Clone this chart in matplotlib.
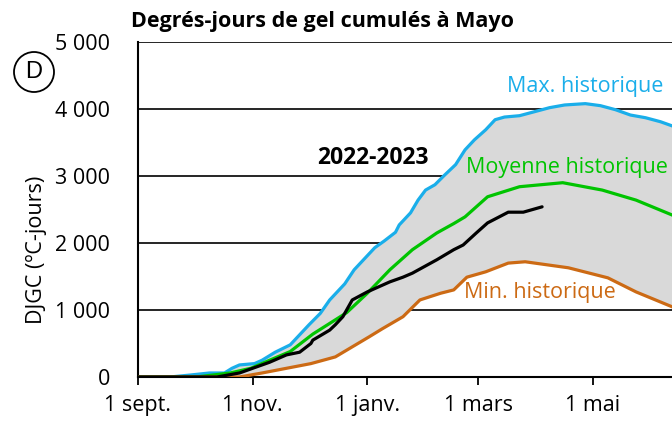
import numpy as np
import matplotlib
matplotlib.use("Agg")
import matplotlib.pyplot as plt
from matplotlib.patches import Ellipse

plt.rcParams['font.family'] = ['Open Sans', 'DejaVu Sans']

# days counted from 1 september
max_days = [0, 17, 28, 38, 46, 50, 54, 62, 66, 73, 81, 86, 91, 97, 102, 107, 110, 115, 121, 126,
            131, 137, 139, 145, 149, 153, 158, 163, 169, 174, 179, 185, 190, 195, 203, 211, 219,
            227, 238, 246, 254, 262, 270, 278, 284, 290]
max_vals = [0, 0, 30, 60, 60, 130, 180, 200, 250, 370, 480, 630, 780, 950, 1150, 1300, 1390, 1600,
            1780, 1930, 2030, 2160, 2270, 2450, 2640, 2790, 2870, 3010, 3170, 3390, 3540, 3690,
            3840, 3880, 3900, 3960, 4020, 4060, 4080, 4050, 3990, 3910, 3870, 3810, 3750, 3700]

mean_days = [0, 31, 49, 60, 70, 81, 93, 111, 122, 134, 146, 159, 168, 174, 186, 203, 226,
             247, 265, 284, 290]
mean_vals = [0, 0, 60, 130, 250, 380, 640, 960, 1250, 1600, 1900, 2150, 2290, 2390, 2690,
             2840, 2900, 2790, 2640, 2420, 2350]

min_days = [0, 54, 66, 79, 92, 105, 111, 123, 130, 141, 150, 161, 168, 175, 185, 197, 206, 229,
            250, 265, 284, 290]
min_vals = [0, 0, 60, 130, 200, 300, 400, 600, 720, 900, 1150, 1250, 1300, 1490, 1570, 1700,
            1720, 1630, 1480, 1270, 1050, 980]

cur_days = [0, 42, 54, 63, 70, 79, 86, 92, 93, 102, 105, 109, 114, 122, 134, 141, 146, 159, 168,
            173, 180, 186, 197, 205, 215]
cur_vals = [0, 0, 60, 150, 220, 330, 370, 500, 550, 700, 780, 900, 1150, 1270, 1420, 1490, 1550,
            1750, 1900, 1970, 2150, 2300, 2460, 2460, 2540]

tick_days = [0, 61, 122, 181, 242]
tick_labels = ['1 sept.', '1 nov.', '1 janv.', '1 mars', '1 mai']
y_ticks = [0, 1000, 2000, 3000, 4000, 5000]
y_labels = ['0', '1 000', '2 000', '3 000', '4 000', '5 000']

c_max = '#1aaeea'
c_mean = '#00c400'
c_min = '#cc6a14'
fs = 15.5

fig = plt.figure(figsize=(6.72, 4.21), dpi=100)
ax = fig.add_axes([138 / 672, 1 - 377 / 421, 686 / 672, 335 / 421])

ax.fill(np.r_[max_days, min_days[::-1]], np.r_[max_vals, min_vals[::-1]],
        color='#d9d9d9', lw=0, zorder=1)
for y in y_ticks[1:]:
    ax.axhline(y, color='black', lw=1.2, zorder=0.5)

ax.plot(max_days, max_vals, color=c_max, lw=2.3, zorder=3, solid_capstyle='round')
ax.plot(mean_days, mean_vals, color=c_mean, lw=2.3, zorder=3, solid_capstyle='round')
ax.plot(min_days, min_vals, color=c_min, lw=2.3, zorder=3, solid_capstyle='round')
ax.plot(cur_days, cur_vals, color='black', lw=2.3, zorder=4, solid_capstyle='round')

ax.set_xlim(0, 365)
ax.set_ylim(0, 5000)
ax.set_xticks(tick_days)
ax.set_xticklabels(tick_labels)
ax.set_yticks(y_ticks)
ax.set_yticklabels(y_labels)
ax.tick_params(axis='x', length=6, width=1.3, pad=7, labelsize=fs)
ax.tick_params(axis='y', length=0, pad=20, labelsize=fs)
for s in ['top', 'right']:
    ax.spines[s].set_visible(False)
for s in ['left', 'bottom']:
    ax.spines[s].set_linewidth(1.5)

ax.text(238, 4330, 'Max. historique', color=c_max, fontsize=fs, ha='center', va='center')
# kept just inside the right edge of the picture
ax.text(282, 3120, 'Moyenne historique', color=c_mean, fontsize=fs, ha='right', va='center')
ax.text(214, 1255, 'Min. historique', color=c_min, fontsize=fs, ha='center', va='center')
ax.text(125, 3270, '2022-2023', color='black', fontsize=16.5, fontweight='bold',
        ha='center', va='center')

fig.text(131 / 672, 1 - 22 / 421, 'Degrés-jours de gel cumulés à Mayo', fontsize=fs,
         fontweight='bold', ha='left', va='center')
fig.text(36 / 672, 1 - 250 / 421, 'DJGC (ºC-jours)', fontsize=fs, rotation=90,
         ha='center', va='center')

fig.patches.append(Ellipse((34 / 672, 1 - 72 / 421), 40 / 672, 40 / 421, fill=False,
                           edgecolor='black', lw=1.3, transform=fig.transFigure))
fig.text(34 / 672, 1 - 72 / 421, 'D', fontsize=17, family='Liberation Sans',
         ha='center', va='center')

fig.savefig('out.png', dpi=100)
